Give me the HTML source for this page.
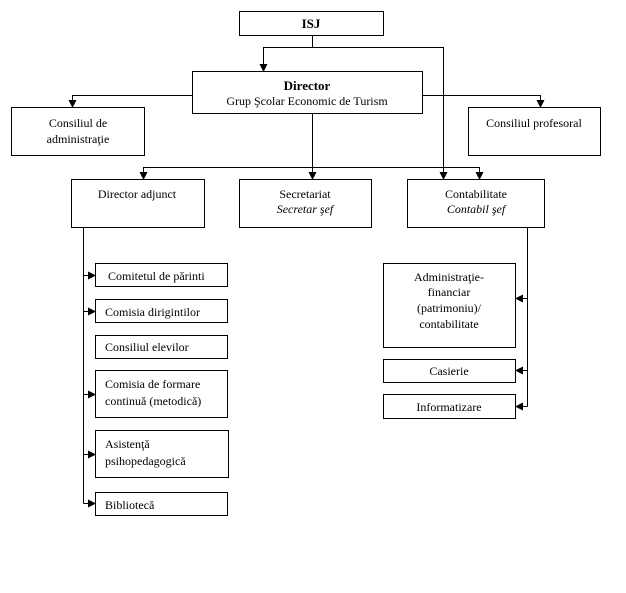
<!DOCTYPE html>
<html><head><meta charset="utf-8"><style>
html,body{margin:0;padding:0;background:#fff;}
svg text{font-family:"Liberation Serif",serif;font-size:12px;fill:#000;}
</style></head><body>
<svg width="626" height="588" viewBox="0 0 626 588" xmlns="http://www.w3.org/2000/svg">
<defs>
<marker id="a" markerWidth="8" markerHeight="8" refX="7" refY="4" orient="auto" markerUnits="userSpaceOnUse">
<path d="M0,0 L8,4 L0,8 Z" fill="#000"/></marker>
</defs>
<g fill="#fff" stroke="#000" stroke-width="1">
<rect x="239.5" y="11.5" width="144" height="24"/>
<rect x="192.5" y="71.5" width="230" height="42"/>
<rect x="11.5" y="107.5" width="133" height="48"/>
<rect x="468.5" y="107.5" width="132" height="48"/>
<rect x="71.5" y="179.5" width="133" height="48"/>
<rect x="239.5" y="179.5" width="132" height="48"/>
<rect x="407.5" y="179.5" width="137" height="48"/>
<rect x="95.5" y="263.5" width="132" height="23"/>
<rect x="95.5" y="299.5" width="132" height="23"/>
<rect x="95.5" y="335.5" width="132" height="23"/>
<rect x="95.5" y="370.5" width="132" height="47"/>
<rect x="95.5" y="430.5" width="133" height="47"/>
<rect x="95.5" y="492.5" width="132" height="23"/>
<rect x="383.5" y="263.5" width="132" height="84"/>
<rect x="383.5" y="359.5" width="132" height="23"/>
<rect x="383.5" y="394.5" width="132" height="24"/>
</g>
<g fill="none" stroke="#000" stroke-width="1">
<path d="M312.5 36 V47.5 H263.5 V71" marker-end="url(#a)"/>
<path d="M312.5 47.5 H443.5 V179" marker-end="url(#a)"/>
<path d="M192 95.5 H72.5 V107" marker-end="url(#a)"/>
<path d="M423 95.5 H540.5 V107" marker-end="url(#a)"/>
<path d="M312.5 114 V179" marker-end="url(#a)"/>
<path d="M312.5 167.5 H143.5 V179" marker-end="url(#a)"/>
<path d="M312.5 167.5 H479.5 V179" marker-end="url(#a)"/>
<path d="M83.5 228 V503.5"/>
<path d="M83.5 275.5 H95" marker-end="url(#a)"/>
<path d="M83.5 311.5 H95" marker-end="url(#a)"/>
<path d="M83.5 394.5 H95" marker-end="url(#a)"/>
<path d="M83.5 454.5 H95" marker-end="url(#a)"/>
<path d="M83.5 503.5 H95" marker-end="url(#a)"/>
<path d="M527.5 228 V406.5"/>
<path d="M527.5 298.5 H516" marker-end="url(#a)"/>
<path d="M527.5 370.5 H516" marker-end="url(#a)"/>
<path d="M527.5 406.5 H516" marker-end="url(#a)"/>
</g>
<g text-anchor="middle">
<text x="311" y="28" style="font-weight:bold;font-size:13px">ISJ</text>
<text x="307" y="90" style="font-weight:bold;font-size:13px">Director</text>
<text x="307" y="105">Grup Şcolar Economic de Turism</text>
<text x="78" y="127">Consiliul de</text>
<text x="78" y="143">administraţie</text>
<text x="534" y="127">Consiliul profesoral</text>
<text x="137" y="198">Director adjunct</text>
<text x="305" y="198">Secretariat</text>
<text x="305" y="213" font-style="italic">Secretar şef</text>
<text x="476" y="198">Contabilitate</text>
<text x="476" y="213" font-style="italic">Contabil şef</text>
<text x="449" y="281">Administraţie-</text>
<text x="449" y="296">financiar</text>
<text x="449" y="312">(patrimoniu)/</text>
<text x="449" y="328">contabilitate</text>
<text x="449" y="375">Casierie</text>
<text x="449" y="411">Informatizare</text>
</g>
<g>
<text x="108" y="280">Comitetul de părinti</text>
<text x="105" y="316">Comisia dirigintilor</text>
<text x="105" y="351">Consiliul elevilor</text>
<text x="105" y="388">Comisia de formare</text>
<text x="105" y="405">continuă (metodică)</text>
<text x="105" y="448">Asistenţă</text>
<text x="105" y="465">psihopedagogică</text>
<text x="105" y="509">Bibliotecă</text>
</g>
</svg>
</body></html>
